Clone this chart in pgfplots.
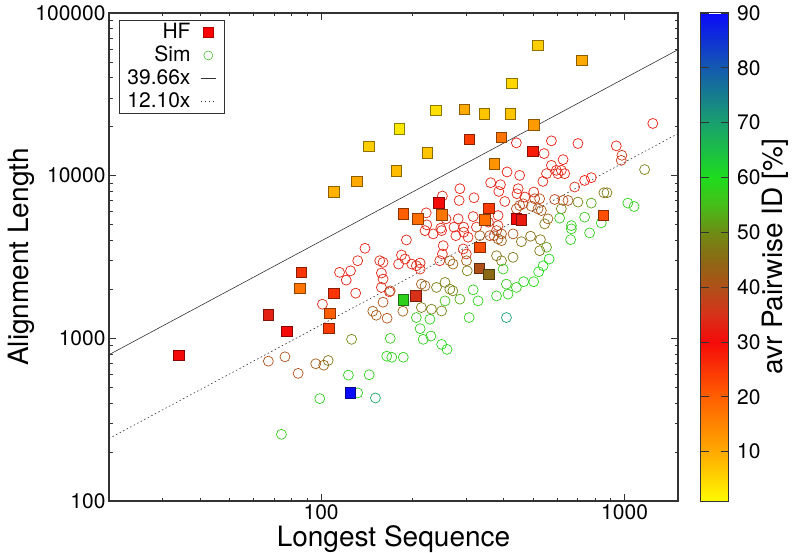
\documentclass[border=0pt]{standalone}
\usepackage{fontspec}
\setmainfont{TeX Gyre Heros}
\usepackage{pgfplots}
\usepackage{pgfplotstable}
\pgfplotsset{compat=1.18}
\definecolor{simgreen}{RGB}{70,195,45}
\definecolor{axgray}{RGB}{50,50,50}

\pgfplotsset{colormap={gp}{rgb255(1pt)=(255,250,0) rgb255(10pt)=(255,170,0) rgb255(20pt)=(255,95,0) rgb255(30pt)=(245,10,10) rgb255(35pt)=(215,50,25) rgb255(40pt)=(175,80,25) rgb255(45pt)=(140,105,20) rgb255(50pt)=(110,140,20) rgb255(55pt)=(70,190,25) rgb255(60pt)=(30,220,30) rgb255(70pt)=(25,160,110) rgb255(80pt)=(20,90,175) rgb255(90pt)=(10,10,250)}}

\pgfplotstableread{
x y m
34 785 30
67 1390 33
77 1100 30
106 1150 24
107 1420 20
110 1890 25
85 2030 17
86 2540 25
125 462 90
110 7930 9
131 9220 10
144 15170 6
181 19310 3
177 10740 8
224 13810 7
239 25190 4
297 25550 10
345 23970 7
420 23970 7
425 36970 5
519 63180 6
722 51050 10
502 20500 12
308 16680 24
393 17160 17
372 11860 13
499 14130 28
244 6785 30
187 5830 20
208 5400 18
250 5745 17
357 6280 24
346 5350 18
440 5430 30
457 5350 32
851 5690 22
334 3630 22
332 2690 40
357 2470 45
187 1720 58
205 1820 35
}\hfdata

\pgfplotstableread{
x y m
115 2545 33
125 2600 33
121 2280 32
130 1896 33
101 1621 34
158 2520 33
160 2313 33
158 2056 34
168 1931 33
139.5 3579 32
132 3000 33
220 4594 33
234 4385 33
249.5 4594 33
278 4279 33
295 4494 32
305 4185 33
191 4026 33
252.5 3712 33
251 3300 33
294 3543 34
301 3300 34
184 3253 33
189 3073 33
156 3000 34
160 2932 34
180 2862 33
199 2862 33
206 2793 34
212 2903 33
212 2666 34
246 3000 34
410 10540 32
362 9053 33
390 8800 33
385 8000 33
286.6 8313 32
403 6940 33
251 7494 33
285 7039 33
319 7314 33
317 5607 33
283 5427 33
222 5909 33
258 5427 33
383 5686 33
223 4983 33
248 4755 33
274 4824 33
295 4824 34
325 4824 34
356 5178 34
1239 20940 32
702 15760 32
574 16370 32
440 15920 32
543 13670 32
627 12550 32
574 11570 33
939 15250 33
451 10040 33
538 9220 33
553 10290 33
596 10780 33
619 10780 33
635 10290 33
603 10290 33
446 8313 33
442 7743 33
469 7388 33
502 7933 33
980 13340 35
975 12420 37
685 8516 34
777 9720 28
738.5 9350 29
371 4279 38
383 4932 36
333.4 4279 42
359.7 4279 40
378.5 4594 38
393 4385 40
429 4385 40
383 4084 42
393 3986 43
265.6 2999 42
272 2862 43
301.4 2999 42
169 1958 40
214 2154 42
220 2101 43
186 1468 42
160 1668 40
148 1468 42
152 1387 41
165 1329 40
67 724 40
76 770 40
84 609 40
96 698 42
102 684 43
105.5 731 47
463 6716 38
505.7 7211 38
525 7211 39
588.5 7139 38
627 7039 39
651 7039 40
440 6256 40
451 6553 39
493 6496 41
518.5 6256 40
532 6105 42
559 5427 43
378.5 3220 46
393 2999 47
429 3148 47
303 2601 48
240 2056 48
256 2207 48
265.6 2007 48
271.7 1958 49
214 1547 47
231 1510 48
249.5 1473 49
457 3930 46
490 4244 45
528 4043 46
525 3457 47
1164 10900 48
855 7854 47
875 7854 47
702 6881 49
545.5 5054 47
619 6256 48
126 986 50
286.6 1741 53
553 3630 52
777 6783 53
317 1987 58
329 1699 58
378.5 1824 58
408 2154 57
413 1869 58
440 2056 57
398 2666 57
256 1699 56
228.4 1310 58
206 1342 57
307.5 1342 58
212 1147 58
217 986 58
230 1033 58
169 1000 57
249.5 918 59
260 855 59
164.5 777 58
171 765 58
186.6 765 58
123 594 58
144 597 58
132 462 58
99 426 58
74 257 57
564 3073 59
539 2793 59
521 2566 59
465 2229 59
502 2229 59
664 4043 58
767 4448 58
668 4708 57
1025 6783 58
1075 6463 58
611 5482 57
738.5 5560 57
668 4932 58
838 5126 58
408 1342 70
151 430 68
}\simdata

\begin{document}
\begin{tikzpicture}
\useasboundingbox (-109pt,-51pt) rectangle (683pt,501pt);
\begin{axis}[
  at={(0pt,0pt)}, anchor=south west,
  scale only axis, width=569pt, height=488pt,
  xmode=log, ymode=log,
  xmin=20, xmax=1500, ymin=100, ymax=100000,
  xtick={100,1000}, xticklabels={100,1000},
  ytick={100,1000,10000,100000}, yticklabels={100,1000,10000,100000},
  minor xtick={20,30,40,50,60,70,80,90,200,300,400,500,600,700,800,900},
  minor ytick={200,300,400,500,600,700,800,900,2000,3000,4000,5000,6000,7000,8000,9000,20000,30000,40000,50000,60000,70000,80000,90000},
  tick align=inside,
  major tick length=7pt, minor tick length=3.5pt,
  every tick/.style={axgray, line width=0.8pt},
  axis line style={axgray, line width=1.2pt},
  ticklabel style={font=\fontsize{21}{25}\selectfont},
  /pgf/number format/assume math mode=true,
  every axis x label/.style={at={(axis description cs:0.5,-0.0932)}, anchor=base},
  every axis y label/.style={at={(axis description cs:-0.183,0.5)}, rotate=90, anchor=north},
  label style={font=\fontsize{28}{32}\selectfont},
  xlabel={Longest Sequence}, ylabel={Alignment Length},
  colormap name=gp,
  point meta min=1, point meta max=90,
  colorbar,
  colorbar/width=28pt,
  colorbar style={
    at={(parent axis.north east)}, anchor=north west, xshift=14pt,
    scale only axis, width=28pt, height=488pt,
    ytick={10,20,30,40,50,60,70,80,90},
    ytick pos=both, yticklabel pos=right,
    tick align=inside, major tick length=8pt,
    every tick/.style={axgray, line width=0.8pt},
    axis line style={axgray, line width=1pt},
    yticklabel style={font=\fontsize{21}{25}\selectfont, xshift=5pt},
    /pgf/number format/assume math mode=true,
    every axis y label/.style={at={(axis description cs:2.2,0.5)}, rotate=90, anchor=north, inner sep=0pt},
    ylabel={avr Pairwise ID [\%]},
    ylabel style={font=\fontsize{28}{32}\selectfont},
  },
  legend style={at={(0,1)}, anchor=north west, xshift=10pt, yshift=-7pt,
    draw=axgray, line width=0.9pt, font=\fontsize{21}{25}\selectfont,
    inner xsep=8pt, inner ysep=3.5pt, row sep=6pt, column sep=10pt,
    nodes={inner sep=0pt, text height=15pt, text depth=2pt}},
  legend cell align=right,
  legend plot pos=right,
]
\addplot[scatter, only marks, mark=o, mark size=5pt, point meta=explicit,
  scatter/use mapped color={draw=mapped color, fill=none, line width=0.7pt}, forget plot]
  table[x=x, y=y, meta=m] {\simdata};
\addplot[scatter, only marks, mark=square*, mark size=5.3pt, point meta=explicit,
  scatter/use mapped color={draw=mapped color!55!black, fill=mapped color, line width=0.8pt}, forget plot]
  table[x=x, y=y, meta=m] {\hfdata};
\addplot[forget plot, axgray, line width=0.6pt] coordinates {(20,793.2) (1500,59490)};
\addplot[forget plot, axgray, line width=0.6pt, dash pattern=on 1.5pt off 2.5pt] coordinates {(20,242) (1500,18150)};

\addlegendimage{legend image code/.code={\draw[fill=red, draw=red!70!black, line width=0.6pt] (2.5pt,-5pt) rectangle (12.5pt,5pt);}}
\addlegendentry{HF}
\addlegendimage{legend image code/.code={\draw[draw=simgreen, line width=0.6pt] (7.5pt,0pt) circle (4.5pt);}}
\addlegendentry{Sim}
\addlegendimage{legend image code/.code={\draw[axgray, line width=0.6pt] (0pt,0pt) -- (15pt,0pt);}}
\addlegendentry{39.66x}
\addlegendimage{legend image code/.code={\draw[axgray, line width=0.6pt, dash pattern=on 1.5pt off 2.5pt] (0pt,0pt) -- (15pt,0pt);}}
\addlegendentry{12.10x}
\end{axis}
\end{tikzpicture}
\end{document}
